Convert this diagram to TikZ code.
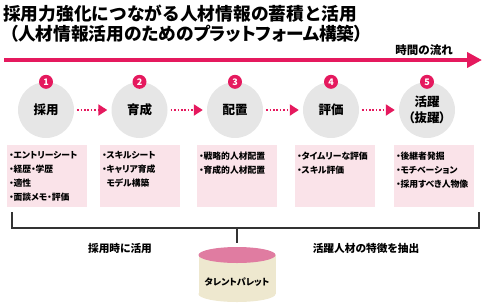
\documentclass[tikz,border=0pt]{standalone}
\usepackage{fontspec}
\setmainfont{Noto Sans CJK JP}[RawFeature=+palt]
\newfontfamily\jpfull{Noto Sans CJK JP}
\usepackage{xcolor}
\usepackage{tikz}
\usetikzlibrary{arrows.meta,positioning,calc}

\definecolor{flowred}{HTML}{E5195E}
\definecolor{boxpink}{HTML}{FAE3E9}
\definecolor{stagegray}{HTML}{E6E6E6}
\definecolor{dbtop}{HTML}{E07CA1}
\definecolor{dbbody}{HTML}{EEE8CF}
\definecolor{linkgray}{HTML}{333333}

\newcommand{\fsz}[1]{\fontsize{#1}{#1}\selectfont}

\begin{document}
\begin{tikzpicture}[
  x=1pt, y=-1pt,
  stage/.style={circle, fill=stagegray, minimum size=56pt, inner sep=0pt,
    align=center, font=\fsz{12.5}\bfseries},
  badge/.style={circle, fill=flowred, text=white, minimum size=14pt,
    inner sep=0pt, font=\fsz{9}\bfseries},
  infobox/.style={fill=boxpink, minimum width=80pt, minimum height=62pt,
    inner sep=0pt, anchor=north west},
  infotext/.style={anchor=north west, inner sep=0pt, align=left,
    font=\fontsize{8.8}{14}\selectfont\bfseries},
  steparr/.style={flowred, line width=2pt, dash pattern=on 1.6pt off 1.8pt,
    -{Triangle[length=9pt, width=11pt, sep=0pt]}, shorten <=3pt, shorten >=4pt},
  timeline/.style={flowred, line width=4pt, -{Triangle[length=15pt, width=15pt]}},
  bracket/.style={linkgray, line width=2pt},
  caption/.style={font=\fsz{10.7}\bfseries}
]
\useasboundingbox (0,0) rectangle (484,306);

% Title
\node[anchor=west, inner sep=0pt, font=\jpfull\fsz{17.7}\bfseries] (title1) at (3,14)
  {採用力強化につながる人材情報の蓄積と活用};
\node[anchor=west, inner sep=0pt, font=\fsz{17.7}\bfseries] (title2) at (9,34)
  {（人材情報活用のためのプラットフォーム構築）};

% Time axis
\coordinate (tstart) at (4,60);
\coordinate (tend) at (482,60);
\draw[timeline] (tstart) -- (tend);
\node[anchor=east, inner sep=0pt, font=\fsz{11.5}\bfseries] (tlabel) at (453,50)
  {時間の流れ};

% Stages
\node[stage] (c1) at (46,110) {採用};
\node[stage] (c2) at (139.5,110) {育成};
\node[stage] (c3) at (235,110) {配置};
\node[stage] (c4) at (331,110) {評価};
\node[stage, font=\fontsize{12.5}{16}\selectfont\bfseries] (c5) at (427,110)
  {活躍\\（抜躍）};

% Numbers
\node[badge] (n1) at (c1.north) {1};
\node[badge] (n2) at (c2.north) {2};
\node[badge] (n3) at (c3.north) {3};
\node[badge] (n4) at (c4.north) {4};
\node[badge] (n5) at (c5.north) {5};

% Stage arrows
\draw[steparr] (c1) -- (c2);
\draw[steparr] (c2) -- (c3);
\draw[steparr] (c3) -- (c4);
\draw[steparr] (c4) -- (c5);

% Info boxes
\node[infobox] (b1) at (7,145) {};
\node[infobox] (b2) at (100,145) {};
\node[infobox] (b3) at (197,145) {};
\node[infobox] (b4) at (295,145) {};
\node[infobox] (b5) at (394,145) {};

\node[infotext] (t1) at ($(b1.north west)+(2,6.5)$)
  {・エントリーシート\\・経歴・学歴\\・適性\\・面談メモ・評価};
\node[infotext] (t2) at ($(b2.north west)+(2,6.5)$)
  {・スキルシート\\・キャリア育成\\\hspace*{0.5em}モデル構築};
\node[infotext] (t3) at ($(b3.north west)+(2,6.5)$)
  {・戦略的人材配置\\・育成的人材配置};
\node[infotext] (t4) at ($(b4.north west)+(2,6.5)$)
  {・タイムリーな評価\\・スキル評価};
\node[infotext] (t5) at ($(b5.north west)+(2,6.5)$)
  {・後継者発掘\\・モチベーション\\・採用すべき人物像};

% Bracket
\coordinate (brl) at (12,212);
\coordinate (brr) at (479,212);
\coordinate (brm) at (237,228);
\coordinate (dbin) at (237,243);
\draw[bracket] (brl) |- (brm) -| (brr);
\draw[bracket] (brm) -- (dbin);

% Talent palette
\fill[dbbody] (198.5,255) rectangle (275.5,294);
\fill[dbbody] (237,294) ellipse[x radius=38.5, y radius=8];
\fill[dbtop] (237,255) ellipse[x radius=38.5, y radius=8];
\node[font=\fsz{9}\bfseries] (db) at (237,282) {タレントパレット};

% Captions
\node[caption] (use) at (120,248) {採用時に活用};
\node[caption] (extract) at (366,248) {活躍人材の特徴を抽出};

\end{tikzpicture}
\end{document}
